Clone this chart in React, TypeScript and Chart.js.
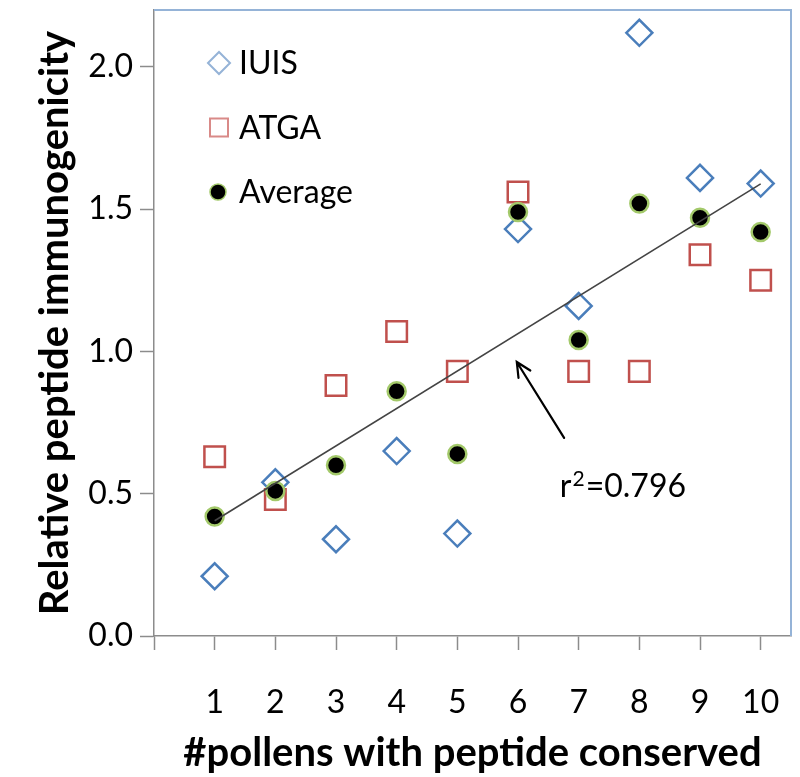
import React, { useEffect, useRef } from 'react';
import { Chart, registerables } from 'chart.js';

Chart.register(...registerables);

// ---- data ----
const xValues = [1, 2, 3, 4, 5, 6, 7, 8, 9, 10];
const iuisValues = [0.21, 0.54, 0.34, 0.65, 0.36, 1.43, 1.16, 2.12, 1.61, 1.59];
const atgaValues = [0.63, 0.48, 0.88, 1.07, 0.93, 1.56, 0.93, 0.93, 1.34, 1.25];
const averageValues = [0.42, 0.51, 0.6, 0.86, 0.64, 1.49, 1.04, 1.52, 1.47, 1.42];
const seriesNames = ['IUIS', 'ATGA', 'Average'];
const xTickValues = [0, 1, 2, 3, 4, 5, 6, 7, 8, 9, 10];
const yTickValues = [0, 0.5, 1.0, 1.5, 2.0];
const xTitle = '#pollens with peptide conserved';
const yTitle = 'Relative peptide immunogenicity';
const rLabelBase = 'r';
const rLabelSup = '2';
const rLabelRest = '=0.796';

// annotation anchors in data units
const arrowTip = { x: 5.98, y: 0.963 };
const arrowTail = { x: 6.76, y: 0.696 };
const rTextAnchor = { x: 6.69, y: 0.488 };

const FONT = 'Lato';
const BLUE = '#4a7ebb';
const RED = '#c0504d';
const GREEN = '#a3c96a';
const AXIS_GREY = '#8c8c8c';

// least squares fit of the average series
function fitLine(xs: number[], ys: number[]) {
  const n = xs.length;
  const mx = xs.reduce((a, b) => a + b, 0) / n;
  const my = ys.reduce((a, b) => a + b, 0) / n;
  let sxy = 0;
  let sxx = 0;
  for (let i = 0; i < n; i++) {
    sxy += (xs[i] - mx) * (ys[i] - my);
    sxx += (xs[i] - mx) * (xs[i] - mx);
  }
  const slope = sxy / sxx;
  return { slope, intercept: my - slope * mx };
}

const zeroPad = (scale: any) => {
  scale.paddingTop = 0;
  scale.paddingBottom = 0;
  scale.paddingLeft = 0;
  scale.paddingRight = 0;
};

const decorPlugin = {
  id: 'decor',
  afterDatasetsDraw(chart: any) {
    const { ctx, chartArea, scales } = chart;
    const xs = scales.x;
    const ys = scales.y;
    ctx.save();
    // top & right border
    ctx.strokeStyle = '#95b3d7';
    ctx.lineWidth = 2;
    ctx.beginPath();
    ctx.moveTo(chartArea.left, chartArea.top);
    ctx.lineTo(chartArea.right, chartArea.top);
    ctx.lineTo(chartArea.right, chartArea.bottom);
    ctx.stroke();

    // legend
    const lx = chartArea.left + 65;
    const ly0 = chartArea.top + 53;
    const step = 64.5;
    ctx.font = `32px ${FONT}`;
    ctx.textBaseline = 'middle';
    ctx.textAlign = 'left';
    seriesNames.forEach((name, i) => {
      const cy = ly0 + i * step;
      ctx.beginPath();
      if (i === 0) {
        const r = 11;
        ctx.moveTo(lx - r, cy);
        ctx.lineTo(lx, cy - r);
        ctx.lineTo(lx + r, cy);
        ctx.lineTo(lx, cy + r);
        ctx.closePath();
        ctx.strokeStyle = '#95b3d7';
        ctx.lineWidth = 2;
        ctx.stroke();
      } else if (i === 1) {
        ctx.rect(lx - 9, cy - 9, 18, 18);
        ctx.strokeStyle = '#d98a88';
        ctx.lineWidth = 2;
        ctx.stroke();
      } else {
        ctx.arc(lx - 1, cy, 8, 0, Math.PI * 2);
        ctx.fillStyle = '#000';
        ctx.fill();
        ctx.strokeStyle = GREEN;
        ctx.lineWidth = 1.5;
        ctx.stroke();
      }
      ctx.fillStyle = '#000';
      ctx.fillText(name, lx + 20, cy + 1);
    });

    // arrow
    const tx = xs.getPixelForValue(arrowTip.x);
    const ty = ys.getPixelForValue(arrowTip.y);
    const sx = xs.getPixelForValue(arrowTail.x);
    const sy = ys.getPixelForValue(arrowTail.y);
    ctx.strokeStyle = '#000';
    ctx.lineWidth = 2.2;
    ctx.lineCap = 'round';
    ctx.beginPath();
    ctx.moveTo(sx, sy);
    ctx.lineTo(tx, ty);
    const ang = Math.atan2(ty - sy, tx - sx);
    const head = 16;
    const spread = 0.45;
    ctx.moveTo(tx - head * Math.cos(ang - spread), ty - head * Math.sin(ang - spread));
    ctx.lineTo(tx, ty);
    ctx.lineTo(tx - head * Math.cos(ang + spread), ty - head * Math.sin(ang + spread));
    ctx.stroke();

    // r^2 text
    let px = xs.getPixelForValue(rTextAnchor.x);
    const py = ys.getPixelForValue(rTextAnchor.y);
    ctx.textBaseline = 'alphabetic';
    ctx.fillStyle = '#000';
    ctx.font = `32px ${FONT}`;
    ctx.fillText(rLabelBase, px, py);
    px += ctx.measureText(rLabelBase).width + 1;
    ctx.font = `21px ${FONT}`;
    ctx.fillText(rLabelSup, px, py - 11);
    px += ctx.measureText(rLabelSup).width + 1;
    ctx.font = `32px ${FONT}`;
    ctx.fillText(rLabelRest, px, py);
    ctx.restore();
  },
};

export default function App() {
  const canvasRef = useRef<HTMLCanvasElement | null>(null);

  useEffect(() => {
    document.body.style.margin = '0';
    const canvas = canvasRef.current;
    if (!canvas) return;
    const { slope, intercept } = fitLine(xValues, averageValues);
    const x0 = xValues[0];
    const x1 = xValues[xValues.length - 1];
    const toPts = (vals: number[]) => xValues.map((x, i) => ({ x, y: vals[i] }));

    const chart = new Chart(canvas, {
      type: 'scatter',
      data: {
        datasets: [
          {
            type: 'line',
            label: 'trend',
            data: [
              { x: x0, y: intercept + slope * x0 },
              { x: x1, y: intercept + slope * x1 },
            ],
            borderColor: '#444444',
            borderWidth: 1.6,
            pointRadius: 0,
            fill: false,
            order: 0,
          } as any,
          {
            label: seriesNames[2],
            data: toPts(averageValues),
            pointStyle: 'circle',
            pointRadius: 9,
            backgroundColor: '#000',
            borderColor: GREEN,
            borderWidth: 2.5,
            order: 1,
          },
          {
            label: seriesNames[1],
            data: toPts(atgaValues),
            pointStyle: 'rect',
            pointRadius: 14.5,
            backgroundColor: 'rgba(0,0,0,0)',
            borderColor: RED,
            borderWidth: 2.5,
            order: 2,
          },
          {
            label: seriesNames[0],
            data: toPts(iuisValues),
            pointStyle: 'rectRot',
            pointRadius: 13,
            backgroundColor: 'rgba(0,0,0,0)',
            borderColor: BLUE,
            borderWidth: 2.5,
            order: 3,
          },
        ],
      },
      options: {
        responsive: false,
        animation: false,
        devicePixelRatio: 1,
        layout: { autoPadding: false, padding: { top: 10, right: 9, left: 0, bottom: 0 } },
        plugins: {
          legend: { display: false },
          tooltip: { enabled: false },
        },
        scales: {
          x: {
            type: 'linear',
            min: 0,
            max: 10.5,
            afterBuildTicks: (scale: any) => {
              scale.ticks = xTickValues.map((v) => ({ value: v }));
            },
            afterFit: (scale: any) => {
              scale.height = 141;
              zeroPad(scale);
            },
            ticks: {
              callback: (v: any) => (v === 0 ? '' : String(v)),
              font: { family: FONT, size: 32 },
              color: '#000',
              padding: 33,
              maxRotation: 0,
              autoSkip: false,
            },
            grid: {
              drawOnChartArea: false,
              drawTicks: true,
              tickLength: 14,
              tickColor: AXIS_GREY,
              tickWidth: 1.5,
            },
            border: { display: true, color: AXIS_GREY, width: 1.5 },
            title: {
              display: true,
              text: xTitle,
              font: { family: FONT, size: 40, weight: 'bold' },
              color: '#000',
              padding: { top: 0, bottom: 0 },
            },
          },
          y: {
            type: 'linear',
            min: 0,
            max: 2.2,
            afterBuildTicks: (scale: any) => {
              scale.ticks = yTickValues.map((v) => ({ value: v }));
            },
            afterFit: (scale: any) => {
              scale.width = 154;
              zeroPad(scale);
            },
            ticks: {
              callback: (v: any) => Number(v).toFixed(1),
              font: { family: FONT, size: 32 },
              color: '#000',
              padding: 7,
            },
            grid: {
              drawOnChartArea: false,
              drawTicks: true,
              tickLength: 14,
              tickColor: AXIS_GREY,
              tickWidth: 1.5,
            },
            border: { display: true, color: AXIS_GREY, width: 1.5 },
            title: {
              display: true,
              text: yTitle,
              font: { family: FONT, size: 40, weight: 'bold' },
              color: '#000',
              padding: { top: 31, bottom: 0 },
            },
          },
        },
      },
      plugins: [decorPlugin],
    });
    return () => chart.destroy();
  }, []);

  return (
    <div style={{ width: 800, height: 777 }}>
      <canvas ref={canvasRef} width={800} height={777} style={{ display: 'block' }} />
    </div>
  );
}
